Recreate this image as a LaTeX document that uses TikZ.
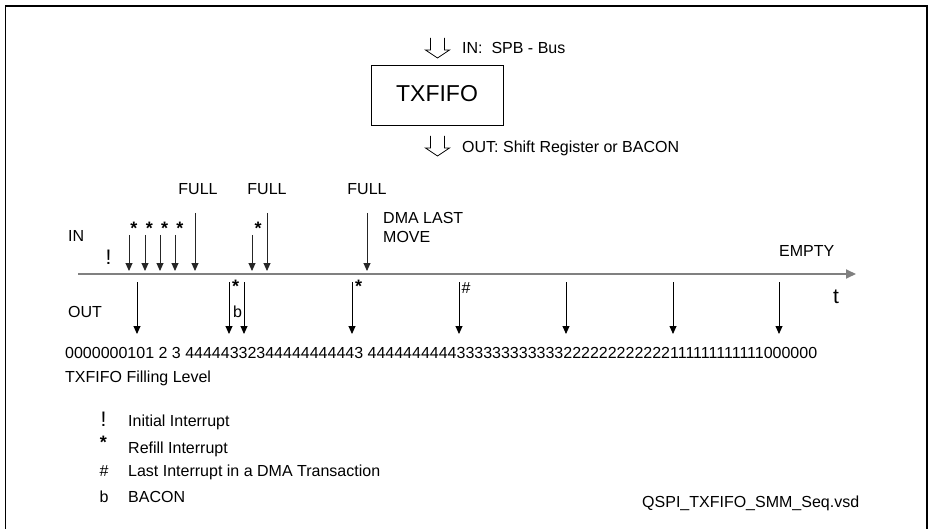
\documentclass[tikz,border=0pt]{standalone}
\usepackage{fontspec}
\setmainfont{Liberation Sans}
\usetikzlibrary{arrows.meta}
\newcommand\fsA{\fontsize{16}{19}\selectfont}
\newcommand\fsB{\fontsize{23}{27}\selectfont}
\newcommand\fsC{\fontsize{21}{25}\selectfont}
\newcommand\fsS{\fontsize{18}{21}\selectfont\bfseries}
\tikzset{
  lbl/.style={inner sep=0pt, anchor=base west, font=\fsA},
  clbl/.style={inner sep=0pt, anchor=base, font=\fsA},
  star/.style={inner sep=0pt, font=\fsS},
  sig/.style={-{Triangle[length=8pt,width=7pt]}, line width=0.9pt, draw=black!85},
  hollow/.style={line width=0.8pt, line join=miter},
  frame/.style={line width=1.5pt},
  axis/.style={line width=1.8pt, draw=black!50, -{Triangle[length=10pt,width=9pt]}},
}
\begin{document}
\begin{tikzpicture}[x=1pt,y=-1pt]
\useasboundingbox (0,0) rectangle (928,529);
% frame
\draw[frame] (5.5,529) -- (5.5,6) -- (927,6) -- (927,529);

% TXFIFO box
\node[draw, line width=0.9pt, minimum width=132pt, minimum height=60pt, inner sep=0pt, font=\fsB] (fifo) at (437,95) {};
\node[inner sep=0pt, anchor=base, font=\fsB] (fifot) at (437,102) {TXFIFO};

% hollow arrows
\coordinate (inA) at (437.5,38);
\coordinate (outA) at (437.5,136);
\draw[hollow, shift={(inA)}] (-7,0) -- (-7,12) -- (-12,12) -- (0,20) -- (12,12) -- (7,12) -- (7,0);
\draw[hollow, shift={(outA)}] (-7,0) -- (-7,12) -- (-12,12) -- (0,20) -- (12,12) -- (7,12) -- (7,0);
\node[lbl] (inbus) at (462,54) {IN:\ \ SPB - Bus};
\node[lbl] (outbus) at (462,153) {OUT: Shift Register or BACON};

% timeline
\coordinate (t0) at (78,274);
\coordinate (t1) at (856,274);
\draw[axis] (t0) -- (t1);
\node[lbl] (inl) at (68,242) {IN};
\node[lbl] (outl) at (68,317) {OUT};
\node[lbl] (empty) at (779,256) {EMPTY};
\node[inner sep=0pt, anchor=base west, font=\fsC] (tl) at (833,303) {t};
\node[inner sep=0pt, anchor=base west, font=\fsC] (excl) at (105.5,265) {!};

% IN arrows
\foreach \n/\x/\y in {a/129/235, b/145/235, c/160/235, d/175/235, e/195/213, f/252/235, g/267/213, h/367/213}{
  \coordinate (in\n s) at (\x,\y);
  \coordinate (in\n e) at (\x,271);
  \draw[sig] (in\n s) -- (in\n e);
}
\foreach \n/\x in {a/134, b/149.5, c/164.5, d/180, f/258}{
  \node[star] (st\n) at (\x,228) {*};
}
\node[clbl] (full1) at (198,195) {FULL};
\node[clbl] (full2) at (267,195) {FULL};
\node[clbl] (full3) at (367,195) {FULL};
\node[lbl] (dma1) at (383,224) {DMA LAST};
\node[lbl] (dma2) at (383,243) {MOVE};

% OUT arrows
\foreach \n/\x in {a/137, b/229, c/244, d/352, e/459, f/566, g/673, h/779}{
  \coordinate (out\n s) at (\x,282);
  \coordinate (out\n e) at (\x,334);
  \draw[sig, draw=black] (out\n s) -- (out\n e);
}
\node[star] (ostb) at (235.5,286) {*};
\node[star] (ostd) at (358.5,286) {*};
\node[lbl] (bb) at (233,317) {b};
\node[lbl] (hash) at (461.5,293) {\#};

% filling level
\node[lbl] (level) at (65,358) {0000000101 2 3 44444332344444444443 4444444444333333333333222222222222111111111111000000};
\node[lbl] (levell) at (65,382) {TXFIFO Filling Level};

% legend
\node[inner sep=0pt, anchor=base west, font=\fsC] (lg1s) at (100.5,426) {!};
\node[lbl] (lg1) at (128,426) {Initial Interrupt};
\node[star] (lg2s) at (103.5,442) {*};
\node[lbl] (lg2) at (128,453) {Refill Interrupt};
\node[lbl] (lg3s) at (99.5,476) {\#};
\node[lbl] (lg3) at (128,476) {Last Interrupt in a DMA Transaction};
\node[lbl] (lg4s) at (99.5,502) {b};
\node[lbl] (lg4) at (128,502) {BACON};

\node[lbl] (file) at (642,507) {QSPI\_TXFIFO\_SMM\_Seq.vsd};
\end{tikzpicture}
\end{document}
